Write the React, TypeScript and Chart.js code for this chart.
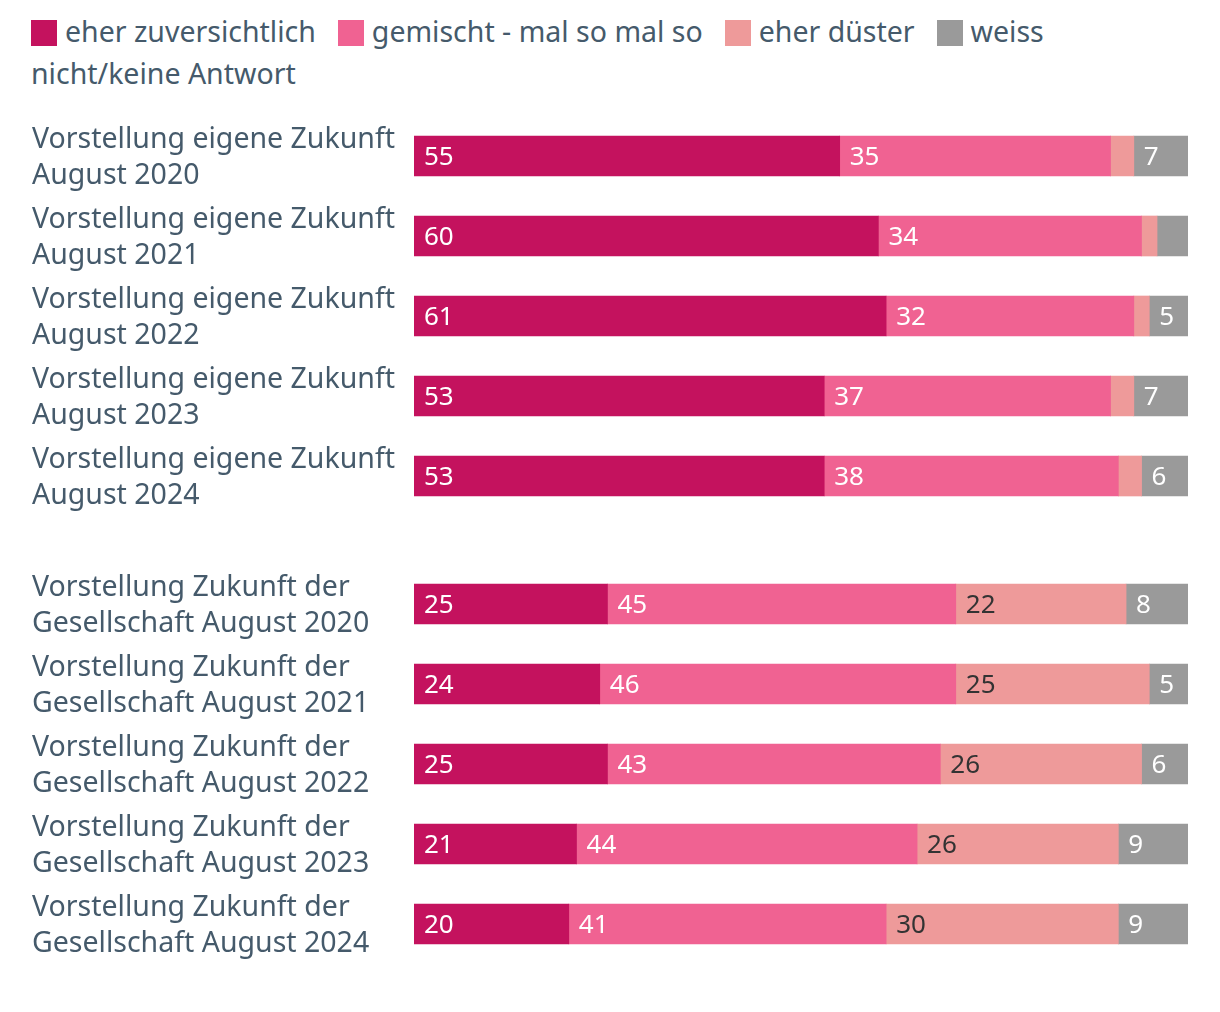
import React, { useEffect, useRef } from 'react';
import { Chart, registerables } from 'chart.js';

Chart.register(...registerables);

const FONT = '"Noto Sans", "Open Sans", sans-serif';
const TEXT = '#455a6b';

const seriesNames = ['eher zuversichtlich', 'gemischt - mal so mal so', 'eher düster', 'weiss nicht/keine Antwort'];
const seriesColors = ['#c4125e', '#f06292', '#ee9a9a', '#9a9a9a'];
const valueLabelColors = ['#ffffff', '#ffffff', '#333333', '#ffffff'];

const ownLabels = [
  ['Vorstellung eigene Zukunft', 'August 2020'],
  ['Vorstellung eigene Zukunft', 'August 2021'],
  ['Vorstellung eigene Zukunft', 'August 2022'],
  ['Vorstellung eigene Zukunft', 'August 2023'],
  ['Vorstellung eigene Zukunft', 'August 2024'],
];
const ownZuversichtlich = [55, 60, 61, 53, 53];
const ownGemischt = [35, 34, 32, 37, 38];
const ownDuester = [3, 2, 2, 3, 3];
const ownWeiss = [7, 4, 5, 7, 6];

const socLabels = [
  ['Vorstellung Zukunft der', 'Gesellschaft August 2020'],
  ['Vorstellung Zukunft der', 'Gesellschaft August 2021'],
  ['Vorstellung Zukunft der', 'Gesellschaft August 2022'],
  ['Vorstellung Zukunft der', 'Gesellschaft August 2023'],
  ['Vorstellung Zukunft der', 'Gesellschaft August 2024'],
];
const socZuversichtlich = [25, 24, 25, 21, 20];
const socGemischt = [45, 46, 43, 44, 41];
const socDuester = [22, 25, 26, 26, 30];
const socWeiss = [8, 5, 6, 9, 9];

const MIN_LABEL_VALUE = 5;

const valueLabelsPlugin = {
  id: 'valueLabels',
  afterDatasetsDraw(chart: any) {
    const ctx = chart.ctx;
    ctx.save();
    ctx.font = `26px ${FONT}`;
    ctx.textBaseline = 'middle';
    ctx.textAlign = 'left';
    chart.data.datasets.forEach((ds: any, i: number) => {
      const meta = chart.getDatasetMeta(i);
      meta.data.forEach((bar: any, j: number) => {
        const v = ds.data[j];
        if (v < MIN_LABEL_VALUE) return;
        const p = bar.getProps(['x', 'y', 'base'], true);
        ctx.fillStyle = valueLabelColors[i];
        ctx.fillText(String(v), Math.min(p.x, p.base) + 10, p.y + 2);
      });
    });
    ctx.restore();
  },
};

function BarBlock({ labels, series }: { labels: string[][]; series: number[][] }) {
  const ref = useRef<HTMLCanvasElement | null>(null);
  useEffect(() => {
    if (!ref.current) return;
    const chart = new Chart(ref.current, {
      type: 'bar',
      data: {
        labels,
        datasets: series.map((d, i) => ({
          label: seriesNames[i],
          data: d,
          backgroundColor: seriesColors[i],
          borderWidth: 0,
          barThickness: 40,
        })),
      },
      options: {
        indexAxis: 'y',
        animation: false,
        responsive: true,
        maintainAspectRatio: false,
        layout: { padding: { left: 24, right: 24, top: 0, bottom: 0 } },
        scales: {
          x: { stacked: true, min: 0, max: 100, display: false },
          y: {
            stacked: true,
            grid: { display: false },
            border: { display: false },
            ticks: {
              crossAlign: 'far',
              color: TEXT,
              padding: 0,
              labelOffset: 2,
              font: { family: FONT, size: 28.5, lineHeight: 36 / 28.5 },
            },
            afterFit: (s: any) => {
              s.width = 382;
              s.paddingTop = 0;
              s.paddingBottom = 0;
            },
          },
        },
        plugins: {
          legend: { display: false },
          tooltip: { enabled: false },
        },
      },
      plugins: [valueLabelsPlugin],
    } as any);
    return () => chart.destroy();
  }, []);
  return (
    <div style={{ position: 'relative', height: 400, width: '100%' }}>
      <canvas ref={ref} />
    </div>
  );
}

export default function App() {
  return (
    <div style={{ width: 1204, fontFamily: FONT }}>
      <div
        style={{
          height: 108,
          width: 1100,
          boxSizing: 'border-box',
          paddingLeft: 23,
          paddingTop: 2,
          fontSize: 28.5,
          lineHeight: '42px',
          color: TEXT,
        }}
      >
        {seriesNames.map((n, i) => (
          <span key={i} style={{ marginRight: 22 }}>
            <span
              style={{
                display: 'inline-block',
                width: 26,
                height: 26,
                background: seriesColors[i],
                verticalAlign: '-4px',
                marginRight: 8,
              }}
            />
            {n}
          </span>
        ))}
      </div>
      <BarBlock labels={ownLabels} series={[ownZuversichtlich, ownGemischt, ownDuester, ownWeiss]} />
      <div style={{ height: 48 }} />
      <BarBlock labels={socLabels} series={[socZuversichtlich, socGemischt, socDuester, socWeiss]} />
    </div>
  );
}
